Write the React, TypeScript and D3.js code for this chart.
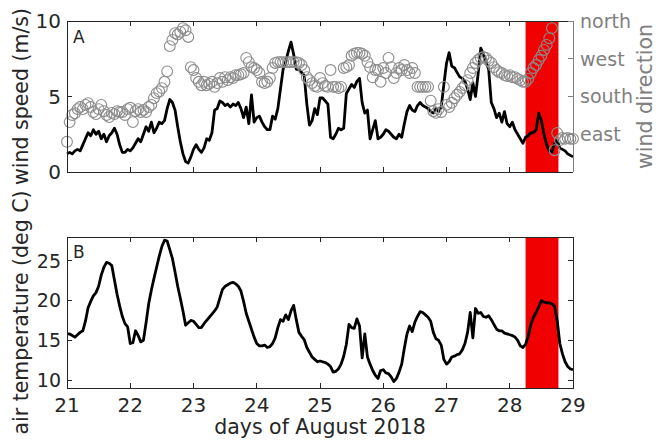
import React from "react";
import * as d3 from "d3";

// Hourly records, 21 Aug 00:00 to 29 Aug 00:00
const startDay = 21;

const windSpeed = [
  // 21
  1.2, 1.3, 1.2, 1.4, 1.5, 1.4, 1.8, 2.2, 2.6, 2.4, 2.8, 2.5, 2.7, 2.2, 2.5, 2.0, 2.4, 2.6, 2.9, 2.5, 1.8, 1.3, 1.3, 1.5,
  // 22
  1.4, 1.6, 1.9, 2.2, 2.0, 2.5, 3.0, 2.7, 3.3, 2.6, 2.9, 3.3, 3.2, 3.4, 4.2, 4.8, 4.6, 4.1, 3.0, 2.0, 1.2, 0.7, 0.6, 1.0,
  // 23
  1.5, 1.8, 1.5, 1.3, 1.6, 2.2, 2.1, 2.6, 4.1, 4.2, 4.7, 4.6, 4.4, 4.5, 4.3, 4.5, 4.4, 4.6, 4.2, 3.6, 4.3, 3.2, 5.1, 3.3,
  // 24
  3.6, 3.7, 3.3, 3.0, 2.8, 2.8, 3.7, 3.5, 4.2, 5.5, 6.8, 7.3, 8.0, 8.6, 7.8, 6.8, 6.8, 6.6, 6.4, 4.5, 3.1, 3.4, 4.2, 3.8,
  // 25
  4.9, 4.9, 4.7, 4.5, 2.3, 2.2, 2.5, 2.9, 2.8, 2.9, 5.2, 5.5, 5.8, 5.6, 6.0, 6.2, 4.6, 3.9, 4.1, 2.2, 2.8, 3.4, 2.2, 2.3,
  // 26
  2.5, 2.8, 2.7, 2.5, 2.3, 2.2, 2.5, 2.3, 3.2, 4.0, 4.4, 4.1, 4.0, 4.4, 4.6, 4.4, 4.3, 4.2, 4.0, 3.9, 4.2, 4.0, 4.3, 5.8,
  // 27
  7.2, 7.9, 7.0, 6.9, 6.6, 6.3, 6.2, 6.0, 5.5, 4.8, 5.9, 5.0, 6.5, 8.2, 7.8, 7.3, 6.8, 4.6, 4.2, 3.6, 3.9, 3.3, 4.0, 3.2,
  // 28
  3.0, 3.3, 2.8, 2.5, 2.2, 1.9, 2.3, 2.4, 2.6, 2.6, 2.8, 3.9, 3.4, 2.5, 1.8, 1.4, 1.3, 1.9, 2.1, 1.6, 1.5, 1.4, 1.2, 1.1,
  // 29
  1.0,
];

// degrees, 90 = east, 180 = south, 270 = west, 360 = north
const windDirection = [
  // 21
  72, 119, 136, 140, 150, 155, 150, 160, 164, 155, 143, 138, 150, 160, 145, 136, 131, 141, 138, 145, 143, 143, 136, 150,
  // 22
  153, 119, 145, 150, 143, 148, 143, 155, 160, 176, 188, 192, 200, 215, 240, 300, 315, 331, 328, 334, 343, 338, 322, 250,
  // 23
  243, 224, 215, 207, 215, 207, 210, 215, 203, 212, 224, 215, 226, 219, 226, 224, 231, 231, 233, 236, 272, 262, 250, 248,
  // 24
  243, 236, 215, 212, 215, 224, 248, 260, 262, 262, 262, 262, 262, 262, 262, 262, 260, 255, 243, 226, 219, 212, 205, 203,
  // 25
  224, 212, 205, 203, 243, 203, 203, 200, 203, 248, 250, 255, 277, 282, 284, 284, 282, 277, 262, 250, 226, 243, 243, 215,
  // 26
  248, 236, 272, 250, 224, 236, 248, 243, 255, 243, 236, 248, 236, 203, 203, 203, 203, 203, 170, 145, 141, 150, 143, 203,
  // 27
  160, 155, 165, 176, 184, 191, 200, 207, 219, 236, 248, 260, 267, 272, 274, 272, 265, 260, 250, 243, 238, 236, 231, 229,
  // 28
  231, 226, 226, 222, 219, 215, 215, 222, 236, 248, 255, 267, 277, 291, 303, 319, 343, 52, 93, 76, 81, 79, 81, 79,
  // 29
  79,
];

const airTemperature = [
  // 21
  15.8, 15.8, 15.6, 15.4, 15.7, 16.0, 16.2, 17.4, 19.1, 19.9, 20.6, 21.0, 21.8, 23.2, 24.2, 24.8, 24.7, 24.4, 22.6, 20.8, 19.3, 18.0, 17.1, 16.7,
  // 22
  14.6, 14.7, 16.2, 15.6, 14.8, 15.0, 17.2, 19.6, 21.3, 22.8, 24.2, 25.6, 26.8, 27.6, 27.5, 26.4, 25.3, 23.6, 21.8, 20.3, 18.7, 16.9, 17.2, 17.5,
  // 23
  17.4, 17.0, 16.6, 16.6, 17.1, 17.5, 17.9, 18.3, 18.7, 19.2, 20.3, 21.4, 21.8, 22.0, 22.2, 22.3, 22.1, 21.8, 21.2, 19.9, 18.4, 17.4, 16.4, 15.4,
  // 24
  14.6, 14.3, 14.3, 14.4, 14.1, 14.2, 14.6, 15.3, 16.6, 17.6, 17.4, 18.2, 17.6, 18.7, 19.4, 17.6, 16.0, 15.5, 15.1, 14.1, 13.5, 12.9, 12.6, 12.3,
  // 25
  12.4, 12.3, 12.2, 12.0, 11.7, 11.0, 11.1, 11.4, 12.0, 13.0, 14.5, 17.0, 16.6, 16.5, 17.7, 16.8, 12.8, 15.8, 12.9, 12.0, 11.2, 10.6, 10.2, 11.2,
  // 26
  11.3, 10.9, 10.8, 10.4, 9.8, 10.2, 11.0, 12.0, 14.0, 15.8, 16.8, 16.1, 17.3, 18.0, 18.6, 18.5, 18.2, 17.9, 17.4, 16.0, 15.2, 15.0, 14.4, 12.6,
  // 27
  12.0, 12.3, 12.9, 13.0, 13.2, 13.3, 13.8, 14.6, 16.0, 18.5, 15.3, 19.0, 18.4, 18.5, 18.0, 17.9, 18.1, 17.6, 17.0, 16.4, 16.2, 16.2, 15.9, 15.8,
  // 28
  15.7, 15.6, 15.4, 15.0, 14.3, 14.1, 14.5, 15.5, 17.0, 17.9, 18.5, 19.2, 20.0, 19.8, 19.7, 19.7, 19.6, 19.3, 17.5, 14.6, 13.3, 12.3, 11.7, 11.4,
  // 29
  11.3,
];

const dayTicks = [21, 22, 23, 24, 25, 26, 27, 28, 29];
const speedTicks = [0, 5, 10];
const directionTicks = [90, 180, 270, 360];
const directionLabels = ["east", "south", "west", "north"];
const temperatureTicks = [10, 15, 20, 25];
const highlightSpan = [28.25, 28.77];

const W = 656;
const H = 441;
const plotLeft = 67;
const plotRight = 573;
const panelA = { top: 21, bottom: 172 };
const panelB = { top: 237, bottom: 388 };
const FONT = "'DejaVu Sans', sans-serif";
const FS = 20.5; // axis titles
const TFS = 19; // tick labels
const DARK = "#262626";
const GRAY = "#808080";
const TICK = 5;

const hourly = (values: number[]) =>
  values.map((v, i) => ({ t: startDay + i / 24, v }));

export default function App() {
  const x = d3.scaleLinear().domain([21, 29]).range([plotLeft, plotRight]);
  const ySpeed = d3.scaleLinear().domain([0, 10]).range([panelA.bottom, panelA.top]);
  const yDir = d3.scaleLinear().domain([0, 360]).range([panelA.bottom, panelA.top]);
  const yTemp = d3.scaleLinear().domain([9, 28]).range([panelB.bottom, panelB.top]);

  const speedLine = d3
    .line<{ t: number; v: number }>()
    .x((d) => x(d.t))
    .y((d) => ySpeed(d.v))(hourly(windSpeed)) as string;
  const tempLine = d3
    .line<{ t: number; v: number }>()
    .x((d) => x(d.t))
    .y((d) => yTemp(d.v))(hourly(airTemperature)) as string;
  const dirPoints = hourly(windDirection);

  const spanX0 = x(highlightSpan[0]);
  const spanX1 = x(highlightSpan[1]);

  const xTicks = (top: number, bottom: number) =>
    dayTicks.slice(1, -1).map((d) => (
      <g key={d}>
        <line x1={x(d)} x2={x(d)} y1={bottom} y2={bottom - TICK} stroke={DARK} />
        <line x1={x(d)} x2={x(d)} y1={top} y2={top + TICK} stroke={DARK} />
      </g>
    ));

  return (
    <svg
      width={W}
      height={H}
      style={{ position: "absolute", left: 0, top: 0, background: "#fff" }}
      fontFamily={FONT}
    >
      <rect width={W} height={H} fill="#fff" />

      {/* Panel A: wind speed and direction */}
      <rect
        x={spanX0}
        y={panelA.top}
        width={spanX1 - spanX0}
        height={panelA.bottom - panelA.top}
        fill="#f00000"
      />
      <path d={speedLine} fill="none" stroke="#000" strokeWidth={2.8} strokeLinejoin="round" />
      {dirPoints.map((p, i) => (
        <circle key={i} cx={x(p.t)} cy={yDir(p.v)} r={5.4} fill="none" stroke="#8c8c8c" strokeWidth={1.1} />
      ))}
      <g shapeRendering="crispEdges">
        <line x1={plotLeft} x2={plotRight} y1={panelA.top} y2={panelA.top} stroke={DARK} />
        <line x1={plotLeft} x2={plotRight} y1={panelA.bottom} y2={panelA.bottom} stroke={DARK} />
        <line x1={plotLeft} x2={plotLeft} y1={panelA.top} y2={panelA.bottom} stroke={DARK} />
        <line x1={plotRight} x2={plotRight} y1={panelA.top} y2={panelA.bottom} stroke={GRAY} />
        {xTicks(panelA.top, panelA.bottom)}
        {speedTicks.map((s) => (
          <line key={s} x1={plotLeft} x2={plotLeft + TICK} y1={ySpeed(s)} y2={ySpeed(s)} stroke={DARK} />
        ))}
        {directionTicks.map((d) => (
          <line key={d} x1={plotRight} x2={plotRight - TICK} y1={yDir(d)} y2={yDir(d)} stroke={GRAY} />
        ))}
      </g>
      {speedTicks.map((s) => (
        <text key={s} x={plotLeft - 6} y={ySpeed(s)} dy="0.36em" textAnchor="end" fontSize={TFS + 1} fill={DARK}>
          {s}
        </text>
      ))}
      {directionTicks.map((d, i) => (
        <text key={d} x={plotRight + 7} y={yDir(d)} dy="0.36em" fontSize={TFS} fill={GRAY}>
          {directionLabels[i]}
        </text>
      ))}
      <text x={73} y={43} fontSize={17} fill={DARK}>A</text>
      <text
        transform={`translate(28,${(panelA.top + panelA.bottom) / 2}) rotate(-90)`}
        textAnchor="middle"
        fontSize={FS}
        fill={DARK}
      >
        wind speed (m/s)
      </text>
      <text
        transform={`translate(652,${(panelA.top + panelA.bottom) / 2}) rotate(-90)`}
        textAnchor="middle"
        fontSize={FS}
        fill={GRAY}
      >
        wind direction
      </text>

      {/* Panel B: air temperature */}
      <rect
        x={spanX0}
        y={panelB.top}
        width={spanX1 - spanX0}
        height={panelB.bottom - panelB.top}
        fill="#f00000"
      />
      <path d={tempLine} fill="none" stroke="#000" strokeWidth={2.8} strokeLinejoin="round" />
      <g shapeRendering="crispEdges">
        <rect
          x={plotLeft}
          y={panelB.top}
          width={plotRight - plotLeft}
          height={panelB.bottom - panelB.top}
          fill="none"
          stroke={DARK}
        />
        {xTicks(panelB.top, panelB.bottom)}
        {temperatureTicks.map((t) => (
          <g key={t}>
            <line x1={plotLeft} x2={plotLeft + TICK} y1={yTemp(t)} y2={yTemp(t)} stroke={DARK} />
            <line x1={plotRight} x2={plotRight - TICK} y1={yTemp(t)} y2={yTemp(t)} stroke={DARK} />
          </g>
        ))}
      </g>
      {temperatureTicks.map((t) => (
        <text key={t} x={plotLeft - 6} y={yTemp(t)} dy="0.36em" textAnchor="end" fontSize={TFS} fill={DARK}>
          {t}
        </text>
      ))}
      {dayTicks.map((d) => (
        <text key={d} x={x(d)} y={412} textAnchor="middle" fontSize={TFS + 1} fill={DARK}>
          {d}
        </text>
      ))}
      <text x={73} y={258} fontSize={17} fill={DARK}>B</text>
      <text
        transform={`translate(28,${(panelB.top + panelB.bottom) / 2}) rotate(-90)`}
        textAnchor="middle"
        fontSize={FS}
        fill={DARK}
      >
        air temperature (deg C)
      </text>
      <text x={(plotLeft + plotRight) / 2} y={434} textAnchor="middle" fontSize={FS} fill={DARK}>
        days of August 2018
      </text>
    </svg>
  );
}
